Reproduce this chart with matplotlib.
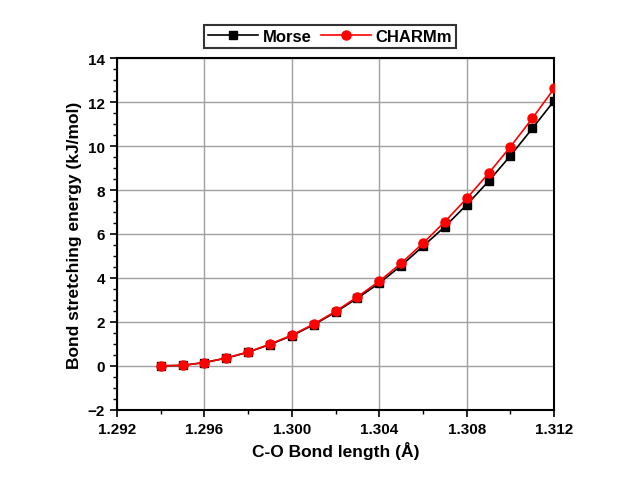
import matplotlib
matplotlib.use("Agg")
import matplotlib.pyplot as plt
from matplotlib.ticker import MultipleLocator

plt.rcParams['font.family'] = ['Liberation Sans', 'DejaVu Sans']
plt.rcParams['font.weight'] = 'bold'

bond_length = [1.294, 1.295, 1.296, 1.297, 1.298, 1.299, 1.300, 1.301, 1.302, 1.303,
               1.304, 1.305, 1.306, 1.307, 1.308, 1.309, 1.310, 1.311, 1.312]
morse = [0.0, 0.02, 0.15, 0.35, 0.62, 0.97, 1.37, 1.87, 2.44, 3.08,
         3.76, 4.56, 5.44, 6.33, 7.33, 8.40, 9.56, 10.80, 12.06]
charmm = [0.0, 0.02, 0.15, 0.36, 0.63, 0.99, 1.40, 1.90, 2.48, 3.14,
          3.85, 4.67, 5.58, 6.56, 7.62, 8.76, 9.97, 11.26, 12.62]

x_ticks = [1.292, 1.296, 1.300, 1.304, 1.308, 1.312]
y_ticks = [-2, 0, 2, 4, 6, 8, 10, 12, 14]

fig = plt.figure(figsize=(6.29, 4.85), dpi=100)
ax = fig.add_axes([0.186, 0.153, 0.695, 0.725])

ax.plot(bond_length, morse, color='black', marker='s', markersize=6, linewidth=1.2,
        label='Morse', zorder=3)
ax.plot(bond_length, charmm, color='red', marker='o', markersize=6.5, linewidth=1.2,
        label='CHARMm', zorder=4)

ax.set_xlim(1.292, 1.312)
ax.set_ylim(-2, 14)
ax.set_xticks(x_ticks)
ax.set_xticklabels([f"{v:.3f}" for v in x_ticks])
ax.set_yticks(y_ticks)
ax.xaxis.set_minor_locator(MultipleLocator(0.002))
ax.yaxis.set_minor_locator(MultipleLocator(0.5))
ax.tick_params(which='major', direction='out', length=5, width=1.2, labelsize=11,
               top=False, right=False)
ax.tick_params(which='minor', direction='out', length=3, width=1.0, top=False, right=False)
for lbl in ax.get_xticklabels() + ax.get_yticklabels():
    lbl.set_fontweight('bold')

ax.grid(True, which='major', color='#a0a0a0', linewidth=1.0)
ax.set_axisbelow(True)
for s in ax.spines.values():
    s.set_linewidth(1.5)

ax.set_xlabel('C-O Bond length (Å)', fontsize=12.5, fontweight='bold', labelpad=4)
ax.set_ylabel('Bond stretching energy (kJ/mol)', fontsize=12.5, fontweight='bold', labelpad=4)

leg = fig.legend(loc='center', bbox_to_anchor=(0.525, 0.922), ncol=2, frameon=True,
                 fancybox=False, edgecolor='black', fontsize=12, handlelength=3,
                 columnspacing=0.5, handletextpad=0.3, borderpad=0.25,
                 prop={'weight': 'bold', 'size': 12})
leg.get_frame().set_linewidth(1.5)

fig.savefig('out.png', dpi=100)
